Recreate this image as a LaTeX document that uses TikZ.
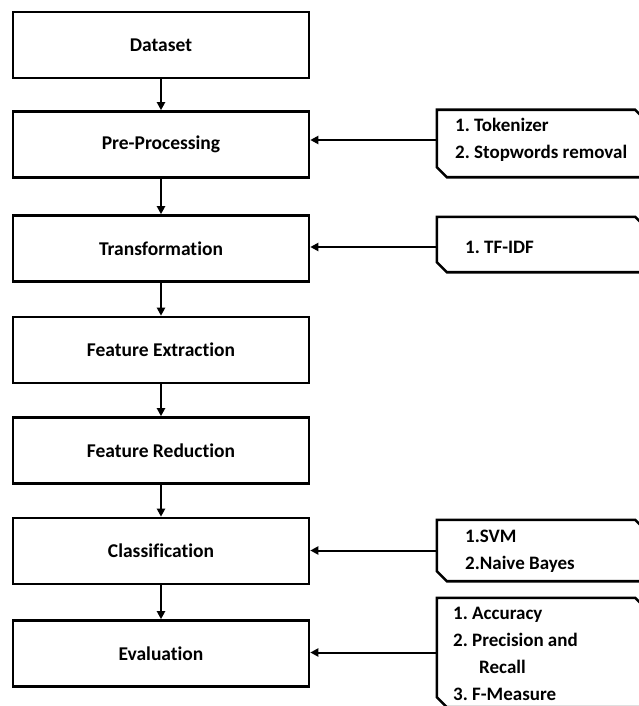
\documentclass[tikz,border=0pt]{standalone}
\usepackage{fontspec}
\setmainfont{Carlito}[Ligatures=NoCommon]
\usetikzlibrary{arrows.meta,calc}
\frenchspacing
\newcommand\cutbox[1]{\draw[cutline] (#1.north west) -- ([xshift=-10pt]#1.north east) -- ([yshift=-10pt]#1.north east) -- (#1.south east) -- ([xshift=10pt]#1.south west) -- ([yshift=10pt]#1.south west) -- cycle;}
\begin{document}
\begin{tikzpicture}[x=1pt,y=-1pt,
  mainbox/.style={draw, line width=2.6pt, minimum width=296pt, minimum height=66pt, inner sep=0pt,
    font=\fontsize{19.5}{23}\selectfont\bfseries},
  sidebox/.style={minimum width=208pt, inner sep=0pt},
  sidetext/.style={anchor=west, align=left, inner sep=0pt, font=\fontsize{19}{27}\selectfont\bfseries},
  arr/.style={line width=2pt, -{Triangle[length=8pt,width=8pt]}},
  cutline/.style={line width=2.6pt, line join=miter}]
\useasboundingbox (0,0) rectangle (639,706);
\clip (0,0) rectangle (639,706);
% main column
\node[mainbox] (ds) at (161,45)    {Dataset};
\node[mainbox] (pp) at (161,144.5) {Pre-Processing};
\node[mainbox] (tr) at (161,248.5) {Transformation};
\node[mainbox] (fe) at (161,350)   {Feature Extraction};
\node[mainbox] (fr) at (161,450.5) {Feature Reduction};
\node[mainbox] (cl) at (161,551)   {Classification};
\node[mainbox] (ev) at (161,653.5) {Evaluation};
% side boxes
\node[sidebox, minimum height=67pt]  (r1) at (541,143.5) {};
\node[sidebox, minimum height=55pt]  (r2) at (541,244.5) {};
\node[sidebox, minimum height=61pt]  (r3) at (541,550.5) {};
\node[sidebox, minimum height=109pt] (r4) at (541,652.5) {};
\cutbox{r1}\cutbox{r2}\cutbox{r3}\cutbox{r4}
\node[sidetext] (t1) at (455,140) {1. Tokenizer\\2. Stopwords removal};
\node[sidetext] (t2) at (465,247) {1. TF-IDF};
\node[sidetext] (t3) at (465,551) {1.SVM\\2.Naive Bayes};
\node[sidetext] (t4) at (453,654) {1. Accuracy\\2. Precision and\\\hspace*{26pt}Recall\\3. F-Measure};
% vertical flow
\draw[arr] (ds) -- (pp);
\draw[arr] (pp) -- (tr);
\draw[arr] (tr) -- (fe);
\draw[arr] (fe) -- (fr);
\draw[arr] (fr) -- (cl);
\draw[arr] (cl) -- (ev);
% side inputs
\draw[arr] ([yshift=3.5pt]r1.west) -- ([yshift=3.5pt]r1.west -| pp.east);
\draw[arr] ([yshift=-2.5pt]r2.west) -- ([yshift=-2.5pt]r2.west -| tr.east);
\draw[arr] (r3.west) -- (r3.west -| cl.east);
\draw[arr] (r4.west) -- (r4.west -| ev.east);
\end{tikzpicture}
\end{document}
